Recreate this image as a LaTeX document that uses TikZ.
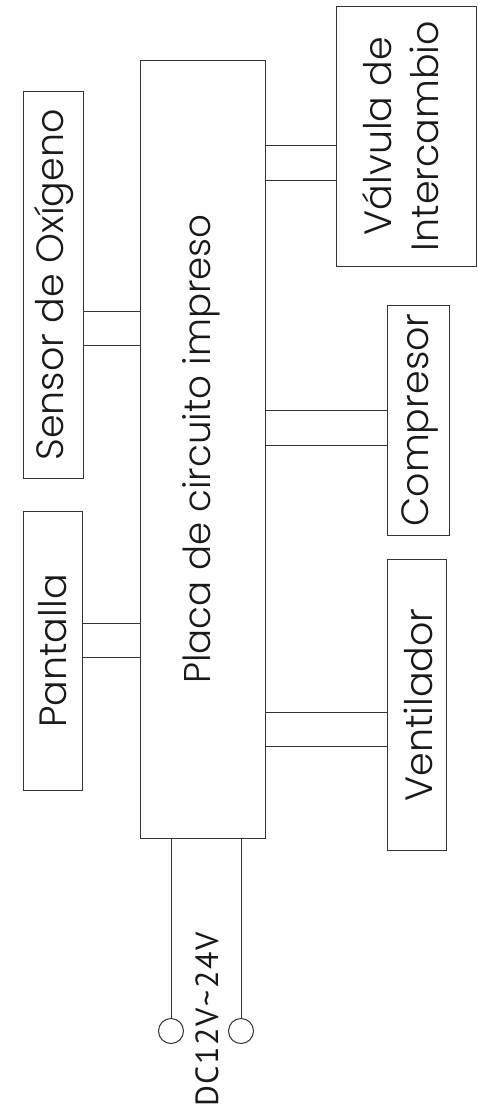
\documentclass[tikz,border=0pt]{standalone}
\usepackage{fontspec}
\setmainfont{Poppins Light}
\newfontfamily\dcfont[LetterSpace=5]{PT Sans}
\begin{document}
\begin{tikzpicture}[x=1pt,y=-1pt,
  box/.style={draw=black!80, line width=1pt, rectangle, inner sep=0pt},
  lbl/.style={rotate=90, text=black!90, font=\fontsize{38}{47}\selectfont, inner sep=0pt, align=center},
  wire/.style={draw=black!80, line width=1pt},
  term/.style={draw=black!80, line width=1pt, circle, minimum size=25pt, inner sep=0pt}]
\useasboundingbox (0,0) rectangle (477,1109);
\node[box, minimum width=125pt, minimum height=778pt] (pcb) at (202.5,449) {};
\node[box, minimum width=140pt, minimum height=260pt] (valv) at (406,136) {};
\node[box, minimum width=60pt, minimum height=387pt] (sens) at (53,284.5) {};
\node[box, minimum width=62pt, minimum height=230pt] (comp) at (418,420) {};
\node[box, minimum width=59pt, minimum height=279pt] (pant) at (52.5,650.5) {};
\node[box, minimum width=59pt, minimum height=291pt] (vent) at (416.5,704.5) {};
\node[lbl, font=\fontsize{37.2}{47}\selectfont] (tpcb) at (201,449) {Placa de circuito impreso};
\node[lbl] (tvalv) at (401,136) {Válvula de\\Intercambio};
\node[lbl] (tsens) at (54,285) {Sensor de Oxígeno};
\node[lbl] (tcomp) at (420,420) {Compresor};
\node[lbl] (tpant) at (53,651) {Pantalla};
\node[lbl] (tvent) at (418,705) {Ventilador};
% connectors
\draw[wire] (pcb.east |- 0,145) -- (valv.west |- 0,145);
\draw[wire] (pcb.east |- 0,180) -- (valv.west |- 0,180);
\draw[wire] (pcb.west |- 0,311) -- (sens.east |- 0,311);
\draw[wire] (pcb.west |- 0,345) -- (sens.east |- 0,345);
\draw[wire] (pcb.east |- 0,410) -- (comp.west |- 0,410);
\draw[wire] (pcb.east |- 0,445) -- (comp.west |- 0,445);
\draw[wire] (pcb.west |- 0,623) -- (pant.east |- 0,623);
\draw[wire] (pcb.west |- 0,657) -- (pant.east |- 0,657);
\draw[wire] (pcb.east |- 0,712) -- (vent.west |- 0,712);
\draw[wire] (pcb.east |- 0,746) -- (vent.west |- 0,746);
% power
\node[term] (t1) at (171,1031) {};
\node[term] (t2) at (241,1031) {};
\draw[wire] (pcb.south -| t1) -- (t1.north);
\draw[wire] (pcb.south -| t2) -- (t2.north);
\node[rotate=90, anchor=west, inner sep=0pt, text=black!90, font=\dcfont\fontsize{32}{34}\selectfont] (dc) at (207,1107) {DC12V\textasciitilde24V};
\end{tikzpicture}
\end{document}
